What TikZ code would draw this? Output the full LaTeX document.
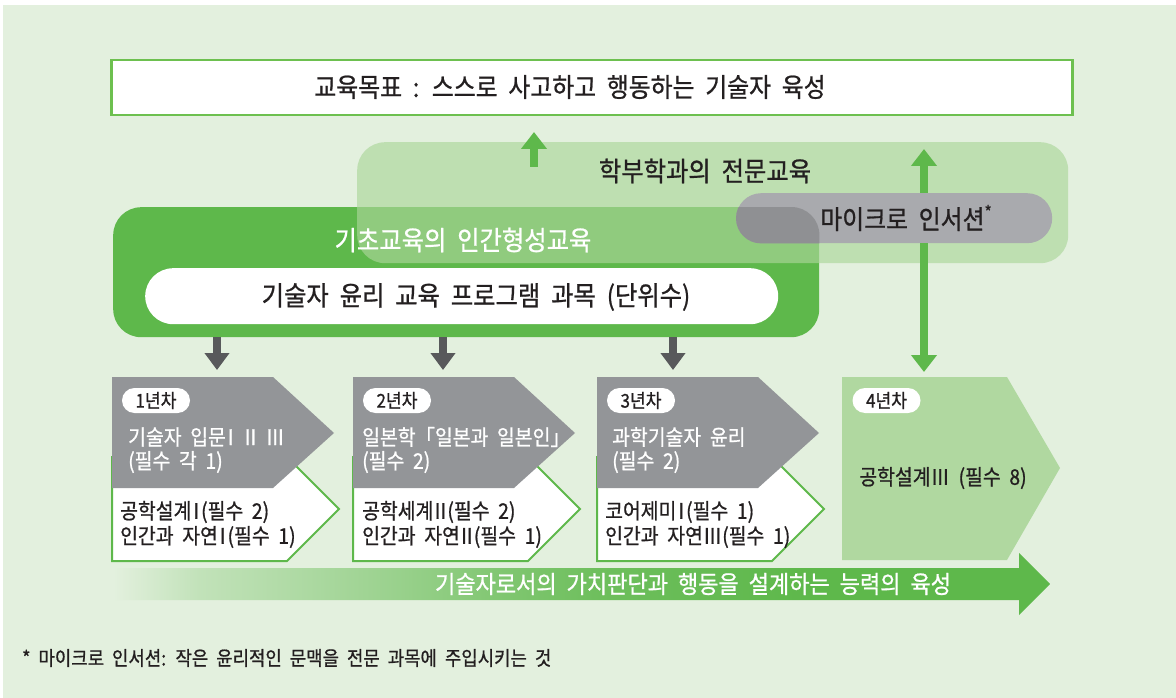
\documentclass[tikz,border=0pt]{standalone}
\usepackage{fontspec}
\setmainfont{Noto Sans CJK KR}[WordSpace=2, FakeStretch=0.9, FakeBold=0.8]
\usetikzlibrary{arrows.meta}
\definecolor{bgc}{HTML}{E3F0DE}
\definecolor{grn}{HTML}{5EB84B}
\definecolor{goalg}{HTML}{6DC04F}
\definecolor{deptc}{HTML}{ABD69A}
\definecolor{pillg}{HTML}{A9AAAE}
\definecolor{pilld}{HTML}{8F9093}
\definecolor{ygray}{HTML}{939598}
\definecolor{yfour}{HTML}{B0D8A0}
\definecolor{darkg}{HTML}{58595B}
\definecolor{ink}{HTML}{231F20}
\colorlet{sA}{grn!25!bgc}
\colorlet{sB}{grn!40!bgc}
\colorlet{sC}{grn!55!bgc}
\colorlet{sD}{grn!75!bgc}
\colorlet{sE}{grn!88!bgc}
\pgfdeclarehorizontalshading{barrow}{100bp}{color(0bp)=(bgc); color(25bp)=(bgc); color(29.6bp)=(sA); color(35bp)=(sB); color(40bp)=(sC); color(46bp)=(sD); color(51bp)=(sE); color(62bp)=(grn); color(100bp)=(grn)}
\newcommand\fsz[1]{\fontsize{#1}{#1}\selectfont}
\newcommand\rnI{\makebox[0.45em][c]{Ⅰ}}
\newcommand\rnII{\makebox[0.65em][c]{Ⅱ}}
\newcommand\rnIII{\makebox[0.9em][c]{Ⅲ}}
\begin{document}
\begin{tikzpicture}[x=1pt,y=-1pt,
  txt/.style={inner sep=0pt, text=ink},
  wtxt/.style={inner sep=0pt, text=white},
  lab/.style={fill=white, rounded corners=12.5pt, minimum width=68pt, minimum height=25pt, inner sep=0pt, text=ink, font=\fsz{19}},
  wbox/.style={fill=white, draw=grn, line width=2pt, line join=miter},
  darr/.style={draw=darkg, line width=8pt, -{Triangle[width=24pt,length=17pt]}},
  garr/.style={draw=grn, line width=8pt, -{Triangle[width=25pt,length=17pt]}},
  bigbox/.style={inner sep=0pt, anchor=north west},
  ytxt/.style={anchor=west, font=\fsz{21.5}}]
\useasboundingbox (0,0) rectangle (1176,698);
\fill[white] (0,0) rectangle (1176,698);
\fill[bgc] (3,5) rectangle (1176,698);

% goal
\node[bigbox, draw=goalg, line width=2.5pt, fill=white, minimum width=961pt, minimum height=55pt] (goal) at (110,59) {};
\node[txt, font=\fsz{26.5}] (goaltxt) at (570,87) {교육목표 : 스스로 사고하고 행동하는 기술자 육성};

% foundation box
\node[bigbox, fill=grn, rounded corners=28pt, minimum width=706pt, minimum height=130pt] (found) at (113,207) {};
% department box (translucent)
\node[bigbox, fill=deptc, fill opacity=0.65, rounded corners=28pt, minimum width=711pt, minimum height=121pt] (dept) at (357,142) {};
\node[wtxt, font=\fsz{27}] (foundtxt) at (463,240) {기초교육의 인간형성교육};
\node[txt, font=\fsz{27}] (depttxt) at (705,171) {학부학과의 전문교육};

% white pill
\node[bigbox, fill=white, rounded corners=28pt, minimum width=633pt, minimum height=56pt] (ethics) at (145,268) {};
\node[txt, font=\fsz{27}] (ethicstxt) at (476,297) {기술자 윤리 교육 프로그램 과목 (단위수)};

% micro insertion pill
\node[bigbox, fill=pillg, rounded corners=25pt, minimum width=316pt, minimum height=50pt] (micro) at (736,193) {};
\begin{scope}
  \clip[rounded corners=28pt] (found.north west) rectangle (found.south east);
  \fill[pilld, rounded corners=25pt] (micro.north west) rectangle (micro.south east);
\end{scope}
\node[txt, font=\fsz{26.5}] (microtxt) at (906,218) {마이크로 인서션\raisebox{0.4em}{\fsz{17}*}};

% green arrows
\coordinate (u1s) at (534,167);
\coordinate (u1e) at (534,132);
\draw[garr] (u1s) -- (u1e);
\coordinate (u2e) at (924,149);
\coordinate (d2e) at (924,372);
\draw[garr] (micro.north -| u2e) -- (u2e);
\draw[garr] (micro.south -| d2e) -- (d2e);

% year boxes
\draw[wbox] (112,457) -- ++(175,0) -- ++(52,52) -- ++(-52,52) -- ++(-175,0) -- cycle;
\fill[ygray] (112,377) -- ++(161,0) -- ++(61,56) -- ++(-61,55) -- ++(-161,0) -- cycle;
\draw[wbox] (353,457) -- ++(175,0) -- ++(52,52) -- ++(-52,52) -- ++(-175,0) -- cycle;
\fill[ygray] (353,377) -- ++(161,0) -- ++(61,56) -- ++(-61,55) -- ++(-161,0) -- cycle;
\draw[wbox] (597,457) -- ++(175,0) -- ++(52,52) -- ++(-52,52) -- ++(-175,0) -- cycle;
\fill[ygray] (597,377) -- ++(161,0) -- ++(61,56) -- ++(-61,55) -- ++(-161,0) -- cycle;
\fill[yfour] (842,377) -- (1007,377) -- (1060,468) -- (1007,560) -- (842,560) -- cycle;

\node[lab] (y1lab) at (156,400.5) {1년차};
\node[lab] (y2lab) at (397,400.5) {2년차};
\node[lab] (y3lab) at (641,400.5) {3년차};
\node[lab] (y4lab) at (886.5,400.5) {4년차};

\node[wtxt, ytxt] (y1a) at (128,437) {기술자 입문\rnI\hspace{8pt}\rnII\hspace{8pt}\rnIII};
\node[wtxt, ytxt] (y1b) at (128,462) {(필수 각 1)};
\node[txt, ytxt] (y1c) at (120,512) {공학설계\rnI(필수 2)};
\node[txt, ytxt] (y1d) at (120,537) {인간과 자연\rnI(필수 1)};

\node[wtxt, ytxt] (y2a) at (362,437) {일본학「일본과 일본인」};
\node[wtxt, ytxt] (y2b) at (362,462) {(필수 2)};
\node[txt, ytxt] (y2c) at (362,512) {공학세계\rnII(필수 2)};
\node[txt, ytxt] (y2d) at (362,537) {인간과 자연\rnII(필수 1)};

\node[wtxt, ytxt] (y3a) at (612,437) {과학기술자 윤리};
\node[wtxt, ytxt] (y3b) at (612,462) {(필수 2)};
\node[txt, ytxt] (y3c) at (605,512) {코어제미\rnI(필수 1)};
\node[txt, ytxt] (y3d) at (605,537) {인간과 자연\rnIII(필수 1)};

\node[txt, font=\fsz{21.5}] (y4a) at (943,478) {공학설계\rnIII\ (필수 8)};

% dark arrows
\coordinate (t1) at (217,370);
\coordinate (t2) at (443,370);
\coordinate (t3) at (673,370);
\draw[darr] (found.south -| t1) -- (t1);
\draw[darr] (found.south -| t2) -- (t2);
\draw[darr] (found.south -| t3) -- (t3);

% bottom arrow
\path[shading=barrow] (113,568) -- (1019,568) -- (1019,553) -- (1050,584) -- (1019,615) -- (1019,600) -- (113,600) -- cycle;
\node[wtxt, font=\fsz{24.5}] (growth) at (693,584) {기술자로서의 가치판단과 행동을 설계하는 능력의 육성};

% footnote
\node[txt, anchor=west, font=\fsz{19.8}] (foot) at (22,658) {* 마이크로 인서션: 작은 윤리적인 문맥을 전문 과목에 주입시키는 것};
\end{tikzpicture}
\end{document}
